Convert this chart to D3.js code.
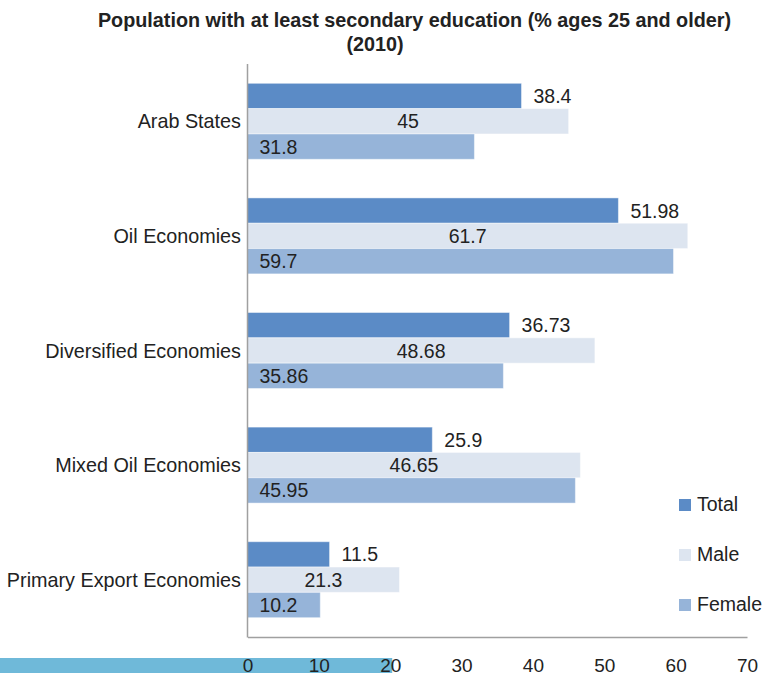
<!DOCTYPE html>
<html>
<head>
<meta charset="utf-8">
<script src="https://cdn.jsdelivr.net/npm/d3@7"></script>
<style>
  html, body { margin: 0; padding: 0; background: #fff; }
  svg { display: block; font-family: "Liberation Sans", Arial, Helvetica, sans-serif; }
</style>
</head>
<body>
<svg id="chart" width="763" height="673"></svg>
<script>
// Population with at least secondary education, 2010 (% ages 25+)
const categories = ["Arab States", "Oil Economies", "Diversified Economies", "Mixed Oil Economies", "Primary Export Economies"];
const seriesNames = ["Total", "Male", "Female"];
const totalValues  = [38.4, 51.98, 36.73, 25.9, 11.5];
const maleValues   = [45, 61.7, 48.68, 46.65, 21.3];
const femaleValues = [31.8, 59.7, 35.86, 45.95, 10.2];
const tickValues = [0, 10, 20, 30, 40, 50, 60, 70];
const titleLines = ["Population with at least secondary education (% ages 25 and older)", "(2010)"];

const colors = { Total: "#5b8bc6", Male: "#dde5f0", Female: "#96b4d9" };
const valuesBySeries = { Total: totalValues, Male: maleValues, Female: femaleValues };

const rows = categories.map((c, i) => ({
  category: c,
  bars: seriesNames.map(s => ({ series: s, value: valuesBySeries[s][i] }))
}));

const svg = d3.select("#chart");
const textColor = "#222";

const x = d3.scaleLinear().domain([0, 70]).range([247.5, 747]);
const y = d3.scaleBand().domain(categories).range([64, 637])
  .paddingInner(0.337).paddingOuter(0.337 / 2);
const ySub = d3.scaleBand().domain(seriesNames).range([0, y.bandwidth()]);

// Strip along the bottom edge, behind the tick labels
svg.append("rect")
  .attr("x", 0).attr("y", 658)
  .attr("width", x(20) + 2).attr("height", 15)
  .attr("fill", "#6fb9d9");

// Title
svg.append("text")
  .attr("x", 414.5).attr("y", 27)
  .attr("text-anchor", "middle")
  .attr("font-size", 19.8).attr("font-weight", "bold").attr("fill", textColor)
  .text(titleLines[0]);
svg.append("text")
  .attr("x", 375).attr("y", 51)
  .attr("text-anchor", "middle")
  .attr("font-size", 19.8).attr("font-weight", "bold").attr("fill", textColor)
  .text(titleLines[1]);

// Bars
const groups = svg.append("g").selectAll("g")
  .data(rows).join("g")
  .attr("transform", d => `translate(0,${y(d.category)})`);

groups.selectAll("rect")
  .data(d => d.bars).join("rect")
  .attr("x", x(0))
  .attr("y", d => ySub(d.series))
  .attr("width", d => x(d.value) - x(0))
  .attr("height", ySub.bandwidth())
  .attr("fill", d => colors[d.series])
  .attr("stroke", "#ffffff").attr("stroke-opacity", 0.45).attr("stroke-width", 1);

// Value labels
groups.selectAll("text.value")
  .data(d => d.bars).join("text")
  .attr("class", "value")
  .attr("x", d => d.series === "Total" ? x(d.value) + 12
                : d.series === "Male" ? (x(0) + x(d.value)) / 2
                : x(0) + 12)
  .attr("y", d => ySub(d.series) + ySub.bandwidth() / 2)
  .attr("dy", "0.36em")
  .attr("text-anchor", d => d.series === "Male" ? "middle" : "start")
  .attr("font-size", 19.5).attr("fill", textColor)
  .text(d => String(d.value));

// Category labels
svg.append("g").selectAll("text")
  .data(categories).join("text")
  .attr("x", 241)
  .attr("y", d => y(d) + y.bandwidth() / 2)
  .attr("dy", "0.36em")
  .attr("text-anchor", "end")
  .attr("font-size", 19.8).attr("fill", textColor)
  .text(d => d);

// Axis lines
svg.append("line")
  .attr("x1", x(0)).attr("x2", x(0)).attr("y1", 64).attr("y2", 637.5)
  .attr("stroke", "#a0a0a0").attr("stroke-width", 1.5);
const xAxis = d3.axisBottom(x).tickValues(tickValues).tickSize(0).tickPadding(0).tickFormat(d3.format("d"));
const axisG = svg.append("g").attr("transform", "translate(0,637)").call(xAxis);
axisG.select(".domain").attr("stroke", "#a0a0a0").attr("stroke-width", 1.5);
axisG.selectAll("text")
  .attr("font-family", "\"Liberation Sans\", Arial, sans-serif")
  .attr("font-size", 19).attr("fill", textColor)
  .attr("dy", null).attr("y", 35);

// Legend
const legend = svg.append("g").selectAll("g")
  .data(seriesNames).join("g")
  .attr("transform", (d, i) => `translate(679,${499 + i * 50})`);
legend.append("rect")
  .attr("width", 12).attr("height", 12)
  .attr("fill", d => colors[d]);
legend.append("text")
  .attr("x", 18).attr("y", 12)
  .attr("font-size", 19.5).attr("fill", textColor)
  .text(d => d);
</script>
</body>
</html>
